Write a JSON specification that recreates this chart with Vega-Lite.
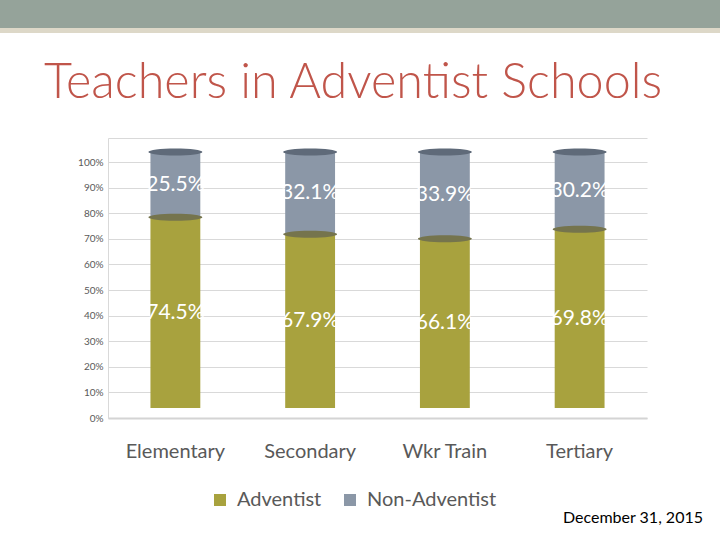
{
  "$schema": "https://vega.github.io/schema/vega-lite/v6.json",
  "padding": 0,
  "background": "white",
  "config": {"view": {"stroke": null}, "font": "Lato"},
  "vconcat": [
    {
      "spacing": 0,
      "bounds": "flush",
      "vconcat": [
        {"width": 720, "height": 28, "view": {"fill": "#95a39a"}, "data": {"values": [{}]}, "mark": {"type": "text", "text": ""}, "encoding": {}},
        {"width": 720, "height": 5, "view": {"fill": "#ddd8c8"}, "data": {"values": [{}]}, "mark": {"type": "text", "text": ""}, "encoding": {}}
      ]
    },
    {
      "spacing": 0,
      "bounds": "flush",
      "hconcat": [
        {"width": 108, "height": 280, "data": {"values": [{}]}, "mark": {"type": "text", "text": ""}, "encoding": {}},
        {
          "width": 539,
          "height": 280,
          "data": {"values": [
            {"level": "Elementary", "group": "Adventist", "pct": 0.745},
            {"level": "Elementary", "group": "Non-Adventist", "pct": 0.255},
            {"level": "Secondary", "group": "Adventist", "pct": 0.679},
            {"level": "Secondary", "group": "Non-Adventist", "pct": 0.321},
            {"level": "Wkr Train", "group": "Adventist", "pct": 0.661},
            {"level": "Wkr Train", "group": "Non-Adventist", "pct": 0.339},
            {"level": "Tertiary", "group": "Adventist", "pct": 0.698},
            {"level": "Tertiary", "group": "Non-Adventist", "pct": 0.302}
          ]},
          "title": {"text": "Teachers in Adventist Schools", "anchor": "start", "frame": "group", "dx": -64, "offset": 30, "font": "Lato", "fontWeight": 300, "fontSize": 48.5, "color": "#c0554a", "limit": 700},
          "encoding": {
            "x": {"field": "level", "type": "nominal", "sort": null,
              "scale": {"paddingInner": 0.63, "paddingOuter": 0.315},
              "axis": {"title": null, "labelAngle": 0, "ticks": false, "labelFont": "Lato", "labelFontSize": 20, "labelColor": "#595959", "labelPadding": 23, "domainColor": "#d4d4d4", "domainWidth": 2, "grid": false}}
          },
          "layer": [
            {
              "mark": {"type": "point", "opacity": 0},
              "encoding": {
                "y": {"field": "pct", "type": "quantitative", "stack": null,
                  "scale": {"domain": [0, 1.09375], "nice": false, "zero": false},
                  "axis": {"title": null, "values": [0, 0.1, 0.2, 0.3, 0.4, 0.5, 0.6, 0.7, 0.8, 0.9, 1.0, 1.09375],
                    "labelExpr": "datum.value > 1.05 ? '' : format(datum.value, '.0%')",
                    "ticks": false, "labelFont": "Lato", "labelFontSize": 10, "labelColor": "#595959", "labelPadding": 5,
                    "gridColor": "#d9d9d9", "domainColor": "#d9d9d9"}}
              }
            },
            {
              "mark": {"type": "bar"},
              "encoding": {
                "y": {"field": "pct", "type": "quantitative", "stack": "zero",
                  "scale": {"domain": [-0.039, 1.05475], "nice": false, "zero": false}, "axis": null},
                "color": {"field": "group", "type": "nominal",
                  "scale": {"domain": ["Adventist", "Non-Adventist"], "range": ["#a8a23e", "#8b97a7"]},
                  "legend": {"orient": "none", "legendX": 210, "legendY": 490, "direction": "horizontal", "title": null,
                    "symbolType": "square", "symbolSize": 144, "symbolStrokeWidth": 0, "labelFont": "Lato", "labelFontSize": 20,
                    "labelColor": "#595959", "columnPadding": 18, "labelOffset": 7}},
                "order": {"field": "group", "sort": "ascending"}
              }
            },
            {
              "mark": {"type": "point", "shape": "M-1,0 A1,0.13,0,1,0,1,0 A1,0.13,0,1,0,-1,0 Z", "size": 2916, "filled": true, "opacity": 1, "strokeWidth": 0},
              "encoding": {
                "y": {"field": "pct", "type": "quantitative", "stack": "zero",
                  "scale": {"domain": [-0.039, 1.05475], "nice": false, "zero": false}, "axis": null},
                "fill": {"field": "group", "type": "nominal",
                  "scale": {"domain": ["Adventist", "Non-Adventist"], "range": ["#75744d", "#5f6a79"]}, "legend": null},
                "order": {"field": "group", "sort": "ascending"}
              }
            },
            {
              "mark": {"type": "text", "color": "white", "font": "Lato", "fontSize": 21, "baseline": "middle"},
              "encoding": {
                "y": {"field": "pct", "type": "quantitative", "stack": "zero", "bandPosition": 0.5,
                  "scale": {"domain": [-0.039, 1.05475], "nice": false, "zero": false}, "axis": null},
                "detail": {"field": "group", "type": "nominal"},
                "order": {"field": "group", "sort": "ascending"},
                "text": {"field": "pct", "type": "quantitative", "format": ".1%"}
              }
            }
          ],
          "resolve": {"scale": {"y": "independent"}}
        },
        {"width": 73, "height": 280, "data": {"values": [{}]}, "mark": {"type": "text", "text": ""}, "encoding": {},
          "title": {"text": "December 31, 2015", "orient": "bottom", "anchor": "end", "frame": "group", "dx": -17, "offset": 92, "font": "Lato", "fontSize": 16, "fontWeight": "normal", "color": "#000000"}}
      ]
    }
  ],
  "spacing": 138,
  "bounds": "flush"
}
